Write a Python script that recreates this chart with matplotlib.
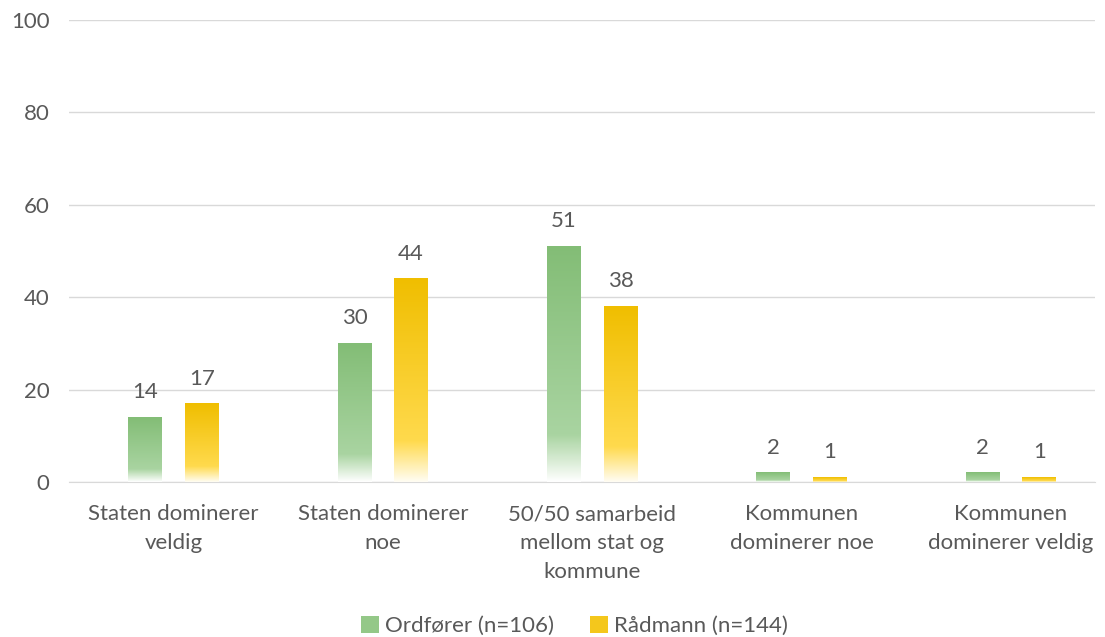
import numpy as np
import matplotlib.pyplot as plt
from matplotlib.colors import LinearSegmentedColormap
from matplotlib.patches import Rectangle

plt.rcParams['font.family'] = ['Lato', 'DejaVu Sans']

categories = ["Staten dominerer\nveldig", "Staten dominerer\nnoe", "50/50 samarbeid\nmellom stat og\nkommune",
              "Kommunen\ndominerer noe", "Kommunen\ndominerer veldig"]
ordforer = [14, 30, 51, 2, 2]
radmann = [17, 44, 38, 1, 1]
series_names = ["Ordfører (n=106)", "Rådmann (n=144)"]

# gradients: top -> bottom
green_cmap = LinearSegmentedColormap.from_list("g", [(0, "#83BD76"), (0.8, "#A9D4A1"), (1, "#FFFFFF")])
yellow_cmap = LinearSegmentedColormap.from_list("y", [(0, "#F0BE00"), (0.8, "#FFDA4D"), (1, "#FFFDF3")])

text_col = "#595959"
fs = 16
fig = plt.figure(figsize=(11.05, 6.37), dpi=100)
ax = fig.add_axes([69 / 1105, 1 - 482 / 637, 1026 / 1105, 462 / 637])

x = np.arange(len(categories))
w = 0.162
off = 0.135
grad = np.linspace(0, 1, 256).reshape(-1, 1)

for vals, sign, cmap in [(ordforer, -1, green_cmap), (radmann, 1, yellow_cmap)]:
    for xi, v in zip(x, vals):
        x0 = xi + sign * off - w / 2
        ax.imshow(grad, cmap=cmap, extent=[x0, x0 + w, 0, v], aspect='auto', origin='upper', zorder=3)
        ax.text(xi + sign * off, v + 5.4, str(v), ha='center', va='center', fontsize=fs, color=text_col)

ax.set_xlim(-0.499, 4.401)
ax.set_ylim(0, 100)
ax.set_yticks(range(0, 101, 20))
ax.set_xticks(x)
ax.set_xticklabels(categories, fontsize=fs, color=text_col, va='top', linespacing=1.55)
ax.tick_params(axis='y', labelsize=fs, colors=text_col, length=0, pad=14)
ax.tick_params(axis='x', length=0, pad=16)
ax.grid(axis='y', color='#D9D9D9', linewidth=1, zorder=0)
ax.set_axisbelow(True)
for s in ['top', 'right', 'left']:
    ax.spines[s].set_visible(False)
ax.spines['bottom'].set_color('#D9D9D9')

handles = [Rectangle((0, 0), 1, 1, facecolor="#94C888"), Rectangle((0, 0), 1, 1, facecolor="#F4C71C")]
fig.legend(handles, series_names, loc='lower center', ncol=2, frameon=False, fontsize=fs,
           labelcolor=text_col, bbox_to_anchor=(0.52, -0.03), handlelength=0.8, handleheight=0.8,
           handletextpad=0.3, columnspacing=1.6)

fig.savefig("out.png", dpi=100)
